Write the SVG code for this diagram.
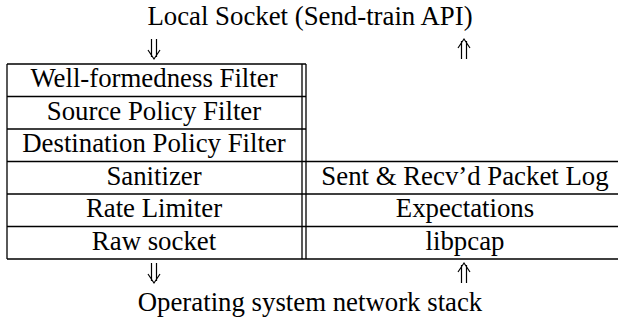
<svg xmlns="http://www.w3.org/2000/svg" width="618" height="323" viewBox="0 0 618 323">
<style>
.t{font-family:"Liberation Serif","Times New Roman",serif;font-size:26.8px;fill:#000;text-anchor:middle}
.ln{stroke:#000;stroke-width:1.3;fill:none}
.arw{stroke:#000;stroke-width:1.2;fill:none}
</style>
<rect width="618" height="323" fill="#fff"/>
<g id="title"><text class="t" x="310" y="25">Local Socket (Send-train API)</text></g>
<g id="connectors">
<path class="arw" d="M151.5 39V57M156.5 39V57M148 50L154 59L160 50"/>
<path class="arw" d="M461.5 59V41M466.5 59V41M458 48L464 39L470 48"/>
<path class="arw" d="M151.5 263V281M156.5 263V281M148 274L154 283L160 274"/>
<path class="arw" d="M461.5 283V265M466.5 283V265M458 272L464 263L470 272"/>
</g>
<g id="grid">
<path class="ln" d="M7 64H306M7 96.5H306M7 129H306M7 161.5H618M7 194H618M7 226.5H618M7 259H618M7 64V259M302 64V259M306 64V259"/>
</g>
<g id="well-formedness"><text class="t" x="154" y="87">Well-formedness Filter</text></g>
<g id="source-policy"><text class="t" x="154" y="119.5">Source Policy Filter</text></g>
<g id="destination-policy"><text class="t" x="154" y="152">Destination Policy Filter</text></g>
<g id="sanitizer"><text class="t" x="154" y="184.5">Sanitizer</text></g>
<g id="rate-limiter"><text class="t" x="154" y="217">Rate Limiter</text></g>
<g id="raw-socket"><text class="t" x="154" y="249.5">Raw socket</text></g>
<g id="packet-log"><text class="t" x="465" y="184.5">Sent &amp; Recv’d Packet Log</text></g>
<g id="expectations"><text class="t" x="465" y="217">Expectations</text></g>
<g id="libpcap"><text class="t" x="465" y="249.5">libpcap</text></g>
<g id="os-stack"><text class="t" x="310" y="311">Operating system network stack</text></g>
</svg>
